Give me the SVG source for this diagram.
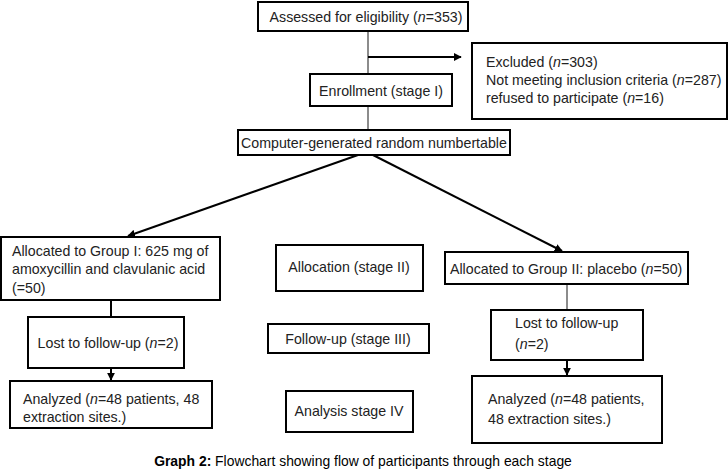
<svg xmlns="http://www.w3.org/2000/svg" width="728" height="470" viewBox="0 0 728 470">
<style>
.box{fill:#fff;stroke:#000;stroke-width:2}
text{font-family:"Liberation Sans",Arial,sans-serif;font-size:14.2px;fill:#222}
.c{text-anchor:middle}
.ln{stroke:#000;stroke-width:2;fill:none}
.gl{stroke:#666;stroke-width:1.5;fill:none}
.cap{font-size:13.9px;fill:#000}
</style>
<defs>
<marker id="ahs" viewBox="0 0 10 10" refX="9" refY="5" markerWidth="8" markerHeight="8" orient="auto" markerUnits="userSpaceOnUse">
<path d="M0,0 L10,5 L0,10 z" fill="#000"/>
</marker>
</defs>
<g id="connectors">
<line class="gl" x1="368" y1="31" x2="368" y2="74"/>
<line class="ln" x1="368" y1="57" x2="461" y2="57" marker-end="url(#ahs)"/>
<line class="gl" x1="368" y1="106" x2="368" y2="130"/>
<line class="ln" x1="358" y1="155" x2="128" y2="236" marker-end="url(#ahs)"/>
<line class="ln" x1="373" y1="155" x2="562" y2="251" marker-end="url(#ahs)"/>
<line class="ln" x1="111" y1="300" x2="111" y2="317"/>
<line class="ln" x1="111" y1="368" x2="111" y2="380" marker-end="url(#ahs)"/>
<line class="gl" x1="567" y1="284" x2="567" y2="310"/>
<line class="ln" x1="567" y1="360" x2="567" y2="375" marker-end="url(#ahs)"/>
</g>
<g id="assessed">
<rect class="box" x="258" y="2" width="210" height="29"/>
<text class="c" x="366" y="22">Assessed for eligibility (<tspan font-style="italic">n</tspan>=353)</text>
</g>
<g id="excluded">
<rect class="box" x="472" y="43" width="255" height="76"/>
<text x="486" y="67">Excluded (<tspan font-style="italic">n</tspan>=303)</text>
<text x="486" y="85">Not meeting inclusion criteria (<tspan font-style="italic">n</tspan>=287)</text>
<text x="486" y="103">refused to participate (<tspan font-style="italic">n</tspan>=16)</text>
</g>
<g id="enrollment">
<rect class="box" x="310" y="74" width="142" height="32"/>
<text class="c" x="381" y="96">Enrollment (stage I)</text>
</g>
<g id="random">
<rect class="box" x="238" y="130" width="272" height="25"/>
<text class="c" x="374" y="148">Computer-generated random numbertable</text>
</g>
<g id="group1">
<rect class="box" x="1" y="237" width="219" height="63"/>
<text x="12" y="256">Allocated to Group I: 625 mg of</text>
<text x="12" y="274">amoxycillin and clavulanic acid</text>
<text x="12" y="293">(=50)</text>
</g>
<g id="allocation">
<rect class="box" x="276" y="245" width="147" height="46"/>
<text class="c" x="349" y="272">Allocation (stage II)</text>
</g>
<g id="group2">
<rect class="box" x="445" y="252" width="243" height="32"/>
<text x="450" y="274">Allocated to Group II: placebo (<tspan font-style="italic">n</tspan>=50)</text>
</g>
<g id="lost1">
<rect class="box" x="28" y="317" width="156" height="51"/>
<text class="c" x="108" y="348">Lost to follow-up (<tspan font-style="italic">n</tspan>=2)</text>
</g>
<g id="followup">
<rect class="box" x="268" y="324" width="161" height="29"/>
<text class="c" x="348" y="344">Follow-up (stage III)</text>
</g>
<g id="lost2">
<rect class="box" x="491" y="310" width="152" height="50"/>
<text x="515" y="328">Lost to follow-up</text>
<text x="515" y="349">(<tspan font-style="italic">n</tspan>=2)</text>
</g>
<g id="analyzed1">
<rect class="box" x="10" y="381" width="202" height="47"/>
<text x="23" y="404">Analyzed (<tspan font-style="italic">n</tspan>=48 patients, 48</text>
<text x="23" y="422">extraction sites.)</text>
</g>
<g id="analysis">
<rect class="box" x="286" y="391" width="127" height="41"/>
<text class="c" x="349" y="416">Analysis stage IV</text>
</g>
<g id="analyzed2">
<rect class="box" x="472" y="376" width="190" height="67"/>
<text x="488" y="404">Analyzed (<tspan font-style="italic">n</tspan>=48 patients,</text>
<text x="488" y="424">48 extraction sites.)</text>
</g>
<text class="c cap" x="363" y="466"><tspan font-weight="bold">Graph 2:</tspan> Flowchart showing flow of participants through each stage</text>
</svg>
